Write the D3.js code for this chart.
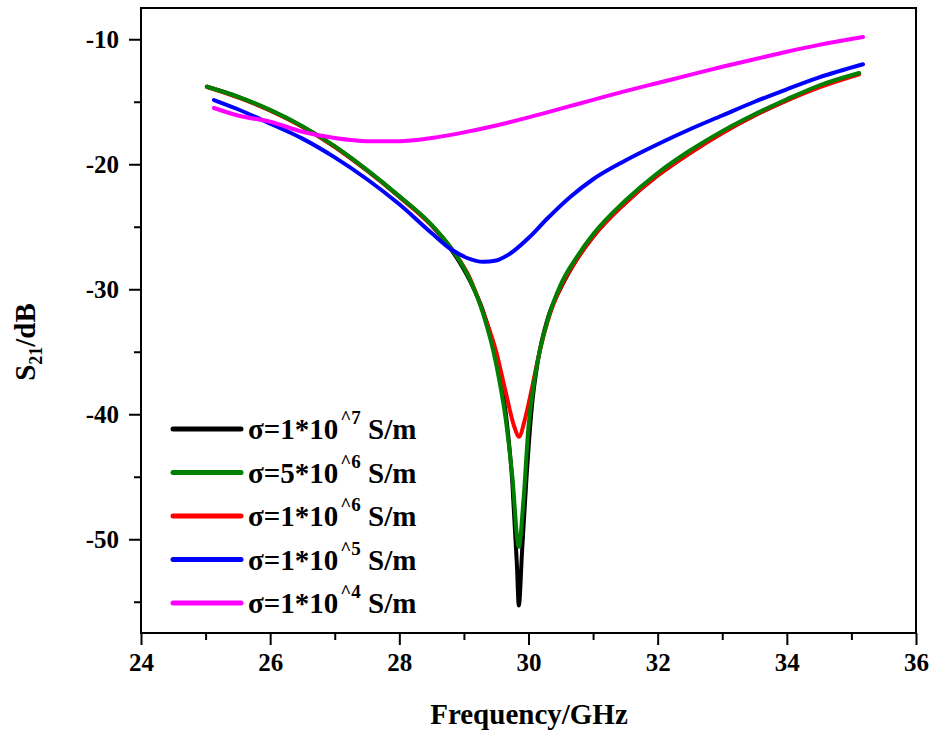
<!DOCTYPE html>
<html>
<head>
<meta charset="utf-8">
<script src="https://cdn.jsdelivr.net/npm/d3@7"></script>
<style>
  body { margin: 0; background: #fff; }
  svg { display: block; }
  text { font-family: "Liberation Serif", "Times New Roman", serif; font-weight: bold; fill: #000; }
  .tick line { stroke: #000; stroke-width: 2; }
  .line { fill: none; stroke-width: 4; stroke-linejoin: round; stroke-linecap: round; }
</style>
</head>
<body>
<div id="chart"></div>
<script>
// Frequency (GHz) and S21 (dB)
const black1e7 = [
  [25.02, -13.8], [25.5, -14.6], [26.0, -15.7], [26.5, -17.0], [27.0, -18.6],
  [27.5, -20.5], [28.0, -22.6], [28.5, -24.9], [28.8, -26.8], [29.1, -29.4],
  [29.3, -31.8], [29.5, -35.5], [29.65, -40.0], [29.75, -45.5], [29.82, -52.0],
  [29.85, -55.3], [29.9, -51.0], [29.97, -45.0], [30.05, -39.5], [30.15, -35.6],
  [30.3, -32.3], [30.5, -29.9], [30.75, -27.6], [31.0, -25.8], [31.5, -23.1],
  [32.0, -20.9], [32.5, -19.1], [33.0, -17.5], [33.5, -16.1], [34.0, -14.9],
  [34.5, -13.8], [35.12, -12.75]
];
const green5e6 = [
  [25.02, -13.8], [25.5, -14.6], [26.0, -15.65], [26.5, -16.95], [27.0, -18.55],
  [27.5, -20.45], [28.0, -22.55], [28.5, -24.85], [28.8, -26.7], [29.1, -29.3],
  [29.3, -32.0], [29.5, -36.0], [29.65, -40.5], [29.75, -45.0], [29.85, -50.6],
  [29.92, -47.0], [30.0, -41.0], [30.1, -37.0], [30.3, -32.4], [30.5, -29.6],
  [30.75, -27.4], [31.0, -25.6], [31.5, -22.9], [32.0, -20.7], [32.5, -18.9],
  [33.0, -17.35], [33.5, -16.0], [34.0, -14.8], [34.5, -13.7], [35.12, -12.7]
];
const red1e6 = [
  [25.02, -13.8], [25.5, -14.65], [26.0, -15.7], [26.5, -17.0], [27.0, -18.6],
  [27.5, -20.5], [28.0, -22.6], [28.5, -24.9], [28.8, -26.7], [29.1, -29.2],
  [29.3, -31.9], [29.5, -35.0], [29.65, -38.3], [29.78, -41.0], [29.85, -41.8],
  [29.95, -40.3], [30.05, -38.0], [30.15, -35.5], [30.3, -32.5], [30.5, -29.8],
  [30.75, -27.6], [31.0, -25.8], [31.5, -23.1], [32.0, -20.9], [32.5, -19.1],
  [33.0, -17.5], [33.5, -16.1], [34.0, -14.9], [34.5, -13.85], [35.12, -12.8]
];
const blue1e5 = [
  [25.13, -14.86], [25.5, -15.6], [26.0, -16.75], [26.5, -17.95], [27.0, -19.45],
  [27.5, -21.2], [28.0, -23.2], [28.5, -25.5], [28.8, -26.8], [29.05, -27.5],
  [29.3, -27.8], [29.5, -27.7], [29.7, -27.2], [30.0, -25.9], [30.3, -24.3],
  [30.65, -22.6], [31.0, -21.2], [31.5, -19.7], [32.0, -18.4], [32.5, -17.2],
  [33.0, -16.1], [33.5, -15.0], [34.0, -14.0], [34.5, -13.05], [35.18, -12.0]
];
const magenta1e4 = [
  [25.13, -15.5], [25.5, -16.1], [26.0, -16.6], [26.5, -17.4], [27.0, -17.9],
  [27.5, -18.15], [28.0, -18.15], [28.5, -17.9], [29.0, -17.45], [29.5, -16.9],
  [30.0, -16.25], [30.5, -15.55], [31.0, -14.85], [31.5, -14.15], [32.0, -13.5],
  [32.5, -12.85], [33.0, -12.2], [33.5, -11.6], [34.0, -11.0], [34.5, -10.45],
  [35.18, -9.82]
];

const xTicks = [24, 26, 28, 30, 32, 34, 36];
const yTicks = [-50, -40, -30, -20, -10];
const xMinor = [25, 27, 29, 31, 33, 35];
const yMinor = [-55, -45, -35, -25, -15];

const legendNames = ['σ=1*10', 'σ=5*10', 'σ=1*10', 'σ=1*10', 'σ=1*10'];
const legendPowers = ['^7', '^6', '^6', '^5', '^4'];

const series = [
  { values: black1e7, color: '#000000' },
  { values: green5e6, color: '#008000' },
  { values: red1e6, color: '#ff0000' },
  { values: blue1e5, color: '#0000ff' },
  { values: magenta1e4, color: '#ff00ff' }
];
// drawing order: green sits over red and black
const drawOrder = [0, 2, 1, 3, 4];

const width = 933, height = 733;
const plotLeft = 141, plotRight = 916, plotTop = 8, plotBottom = 633;

const svg = d3.select('#chart').append('svg')
  .attr('width', width)
  .attr('height', height);

const x = d3.scaleLinear().domain([24, 36]).range([plotLeft, plotRight]);
const y = d3.scaleLinear().domain([-57.5, -7.5]).range([plotBottom, plotTop]);

// minor ticks
svg.append('g')
  .attr('transform', `translate(0,${plotBottom})`)
  .call(d3.axisBottom(x).tickValues(xMinor).tickSize(7).tickFormat(''))
  .call(g => g.select('.domain').remove());
svg.append('g')
  .attr('transform', `translate(${plotLeft},0)`)
  .call(d3.axisLeft(y).tickValues(yMinor).tickSize(7).tickFormat(''))
  .call(g => g.select('.domain').remove());

// major ticks (plain hyphen for the minus sign)
svg.append('g')
  .attr('transform', `translate(0,${plotBottom})`)
  .call(d3.axisBottom(x).tickValues(xTicks).tickSize(12).tickPadding(8).tickFormat(d => String(d)))
  .call(g => g.select('.domain').remove())
  .call(g => g.selectAll('.tick text').style('font-size', '25px'));
svg.append('g')
  .attr('transform', `translate(${plotLeft},0)`)
  .call(d3.axisLeft(y).tickValues(yTicks).tickSize(12).tickPadding(10).tickFormat(d => String(d)))
  .call(g => g.select('.domain').remove())
  .call(g => g.selectAll('.tick text').style('font-size', '25px'));

// lines
const line = d3.line()
  .x(d => x(d[0]))
  .y(d => y(d[1]))
  .curve(d3.curveMonotoneX);

svg.append('g')
  .selectAll('path')
  .data(drawOrder.map(i => series[i]))
  .enter()
  .append('path')
  .attr('class', 'line')
  .attr('stroke', d => d.color)
  .attr('d', d => line(d.values));

// frame
svg.append('rect')
  .attr('x', plotLeft)
  .attr('y', plotTop)
  .attr('width', plotRight - plotLeft)
  .attr('height', plotBottom - plotTop)
  .attr('fill', 'none')
  .attr('stroke', '#000')
  .attr('stroke-width', 2);

// legend
const legend = svg.append('g');
const rowY = d3.scaleLinear().domain([0, 4]).range([429, 603]);
series.forEach((s, i) => {
  const yy = rowY(i);
  legend.append('line')
    .attr('x1', 173).attr('x2', 241)
    .attr('y1', yy).attr('y2', yy)
    .attr('stroke', s.color)
    .attr('stroke-width', 5)
    .attr('stroke-linecap', 'round');
  const t = legend.append('text')
    .attr('x', 248)
    .attr('y', yy + 10)
    .style('font-size', '29px');
  t.append('tspan').text(legendNames[i]);
  t.append('tspan').attr('dx', 2).attr('dy', -15).style('font-size', '19px').text(legendPowers[i]);
  t.append('tspan').attr('dy', 15).style('font-size', '29px').text(' S/m');
});

// axis titles
svg.append('text')
  .attr('x', 529)
  .attr('y', 724)
  .attr('text-anchor', 'middle')
  .style('font-size', '29px')
  .text('Frequency/GHz');

const yt = svg.append('text')
  .attr('transform', 'translate(35,342) rotate(-90)')
  .attr('text-anchor', 'middle')
  .style('font-size', '29px');
yt.append('tspan').text('S');
yt.append('tspan').attr('dy', 7).style('font-size', '18px').text('21');
yt.append('tspan').attr('dy', -7).text('/dB');
</script>
</body>
</html>
